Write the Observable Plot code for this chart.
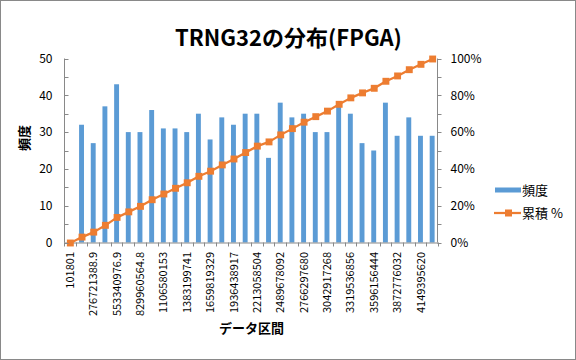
<!DOCTYPE html>
<html><head><meta charset="utf-8">
<script src="https://cdn.jsdelivr.net/npm/d3@7"></script>
<script src="https://cdn.jsdelivr.net/npm/@observablehq/plot@0.6"></script>
<style>
body{margin:0;background:#fff;}
#wrap{position:relative;width:576px;height:360px;overflow:hidden;font-family:"Noto Sans CJK JP","Noto Sans",sans-serif;background:#fff;}
#wrap svg{position:absolute;left:0;top:0;}
#border{position:absolute;left:0;top:0;width:576px;height:360px;box-sizing:border-box;border:1px solid #898989;pointer-events:none;}
.lg{position:absolute;font-size:13px;line-height:16px;color:#000;white-space:nowrap;}
</style></head>
<body>
<div id="wrap"><div id="border"></div></div>
<script>
const title = "TRNG32の分布(FPGA)";
const xTitle = "データ区間";
const yTitle = "頻度";
const seriesNames = ["頻度", "累積 %"];
const binLabels = ["101801","138411595","276721388.9","415031182.9","553340976.9","691650770.8","829960564.8","968270358.8","1106580153","1244889947","1383199741","1521509535","1659819329","1798129123","1936438917","2074748710","2213058504","2351368298","2489678092","2627987886","2766297680","2904607474","3042917268","3181227062","3319536856","3457846650","3596156444","3734466238","3872776032","4011085826","4149395620","4287705414"];
const counts = [0,32,27,37,43,30,30,36,31,31,30,35,28,34,32,35,35,23,38,34,35,30,30,37,35,27,25,38,29,34,29,29];
const cumulativePct = [0,3.20,5.91,9.61,13.91,16.92,19.92,23.52,26.63,29.73,32.73,36.24,39.04,42.44,45.65,49.15,52.65,54.95,58.76,62.16,65.67,68.67,71.67,75.38,78.88,81.58,84.08,87.89,90.79,94.19,97.10,100];
const leftTicks = [0,10,20,30,40,50];
const rightTickLabels = ["0%","20%","40%","60%","80%","100%"];

const barColor = "#5B9BD5", lineColor = "#ED7D31", axisColor = "#898989";
const table = binLabels.map((label, i) => ({label, count: counts[i], pct: cumulativePct[i]}));
const shownLabels = binLabels.filter((_, i) => i % 2 === 0);
const yMax = 50;
const pctToY = p => p * yMax / 100;

const W = 576, H = 360, mL = 64, mR = 138, mT = 58.5, mB = 117.5;

const chart = Plot.plot({
  width: W, height: H,
  marginLeft: mL, marginRight: mR, marginTop: mT, marginBottom: mB,
  style: {background: "transparent", fontFamily: '"Noto Sans CJK JP","Noto Sans",sans-serif', color: "#000"},
  x: {domain: binLabels, paddingInner: 0.58, paddingOuter: 0.29, round: false},
  y: {domain: [0, yMax]},
  marks: [
    Plot.barY(table, {x: "label", y: "count", fill: barColor}),
    Plot.ruleY([0], {stroke: axisColor}),
    Plot.line(table, {x: "label", y: d => pctToY(d.pct), stroke: lineColor, strokeWidth: 2.25}),
    Plot.dot(table, {x: "label", y: d => pctToY(d.pct), symbol: "square", r: 3.9, fill: lineColor}),
    Plot.axisX({ticks: shownLabels, tickRotate: -90, tickSize: 0, tickPadding: 9, fontSize: 11, label: null}),
    Plot.axisY({ticks: leftTicks, tickSize: 0, tickPadding: 12, fontSize: 12, label: null}),
    Plot.axisY({anchor: "right", ticks: leftTicks, tickSize: 0, tickPadding: 12, fontSize: 12, label: null,
      tickFormat: d => rightTickLabels[leftTicks.indexOf(d)]}),
    Plot.text([yTitle], {frameAnchor: "left", dx: -40, rotate: -90, fontSize: 13, fontWeight: "bold"}),
    Plot.text([xTitle], {frameAnchor: "bottom", dy: 90, fontSize: 13, fontWeight: "bold"}),
    Plot.text([title], {frameAnchor: "top", dy: -29, dx: (W / 2) - (mL + (W - mL - mR) / 2), fontSize: 22, fontWeight: "bold"})
  ]
});

const wrap = document.getElementById("wrap");
wrap.insertBefore(chart, document.getElementById("border"));

// axis lines and tick marks from the plot's own scales
const xs = chart.scale("x"), ys = chart.scale("y");
const [x0, x1] = xs.range;
const step = (x1 - x0) / binLabels.length;
const yb = ys.apply(0), yt = ys.apply(yMax);
const g = d3.select(chart).append("g").attr("stroke", axisColor).attr("stroke-width", 1).attr("fill", "none");
const L = Math.round(x0) + 0.5, R = Math.round(x1) - 0.5;
g.append("line").attr("x1", L).attr("x2", L).attr("y1", yb).attr("y2", yt);
g.append("line").attr("x1", R).attr("x2", R).attr("y1", yb).attr("y2", yt);
const minor = d3.range(0, yMax + 1, 5);
for (const v of minor) {
  const y = Math.round(ys.apply(v)) + 0.5;
  g.append("line").attr("x1", L).attr("x2", L + 4).attr("y1", y).attr("y2", y);
  g.append("line").attr("x1", R).attr("x2", R + 4).attr("y1", y).attr("y2", y);
}
for (let i = 0; i <= binLabels.length; i++) {
  const x = Math.round(x0 + i * step) + 0.5;
  g.append("line").attr("x1", x).attr("x2", x).attr("y1", yb).attr("y2", yb + 4);
}

// legend
function addLegend(top, swatchHtml, text) {
  const d = document.createElement("div");
  d.className = "lg";
  d.style.left = "494px"; d.style.top = (top - 8) + "px";
  d.innerHTML = `<svg width="28" height="16" style="position:static;vertical-align:top">${swatchHtml}</svg><span>${text}</span>`;
  wrap.insertBefore(d, document.getElementById("border"));
}
addLegend(190, `<rect x="1" y="5.5" width="26" height="5" fill="${barColor}"/>`, seriesNames[0]);
addLegend(213, `<line x1="0" x2="27" y1="8" y2="8" stroke="${lineColor}" stroke-width="2.25"/><rect x="11" y="4.5" width="7" height="7" fill="${lineColor}"/>`, seriesNames[1]);
</script>
</body></html>
